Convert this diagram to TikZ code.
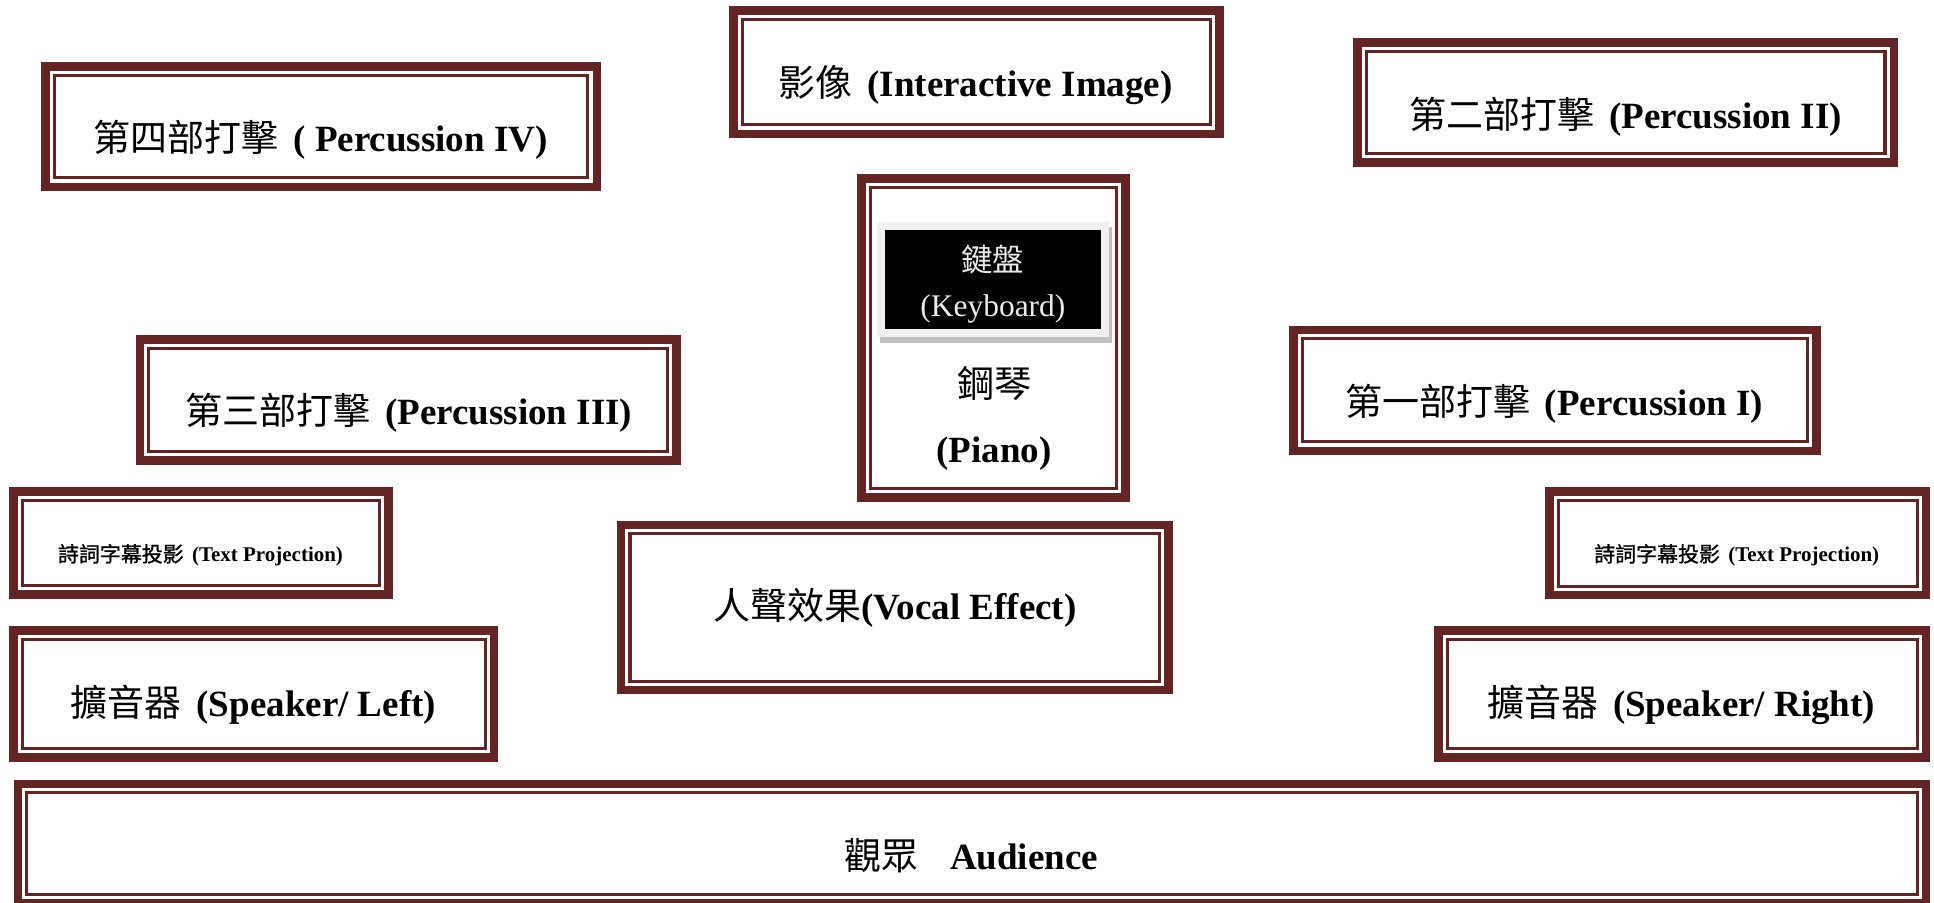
\documentclass[tikz,border=0pt]{standalone}
\usepackage{fontspec}
\setmainfont{Liberation Serif}
\newfontfamily\cjk{Noto Sans CJK TC}
\newfontfamily\cjkb[FakeBold=1.2]{Noto Sans CJK TC}
\definecolor{stagebrown}{RGB}{100,36,36}
\definecolor{kbframe}{RGB}{241,241,241}
\definecolor{kbshadow}{RGB}{192,192,192}
\tikzset{
  outerframe/.style={rectangle, draw=stagebrown, line width=7pt, fill=white, inner sep=0pt, outer sep=0pt},
  innerframe/.style={rectangle, draw=stagebrown, line width=2.5pt, inner sep=0pt, outer sep=0pt},
  lbl/.style={anchor=base, inner sep=0pt, font=\fontsize{30}{36}\selectfont\bfseries},
  smalllbl/.style={anchor=base, inner sep=0pt, font=\fontsize{17}{20}\selectfont\bfseries},
  kblbl/.style={anchor=base, inner sep=0pt, text=white!92!black, font=\fontsize{25.5}{30}\selectfont},
  plainrect/.style={rectangle, inner sep=0pt, outer sep=0pt, draw=none},
}
% name, x1, y1, x2, y2
\newcommand\stagebox[5]{%
  \pgfmathsetmacro\bw{#4-#2}\pgfmathsetmacro\bh{#5-#3}%
  \pgfmathsetmacro\bcx{(#2+#4)/2}\pgfmathsetmacro\bcy{(#3+#5)/2}%
  \pgfmathsetmacro\ow{\bw-7}\pgfmathsetmacro\oh{\bh-7}%
  \pgfmathsetmacro\iw{\bw-21.5}\pgfmathsetmacro\ih{\bh-21.5}%
  \node[outerframe, minimum width=\ow pt, minimum height=\oh pt] (#1) at (\bcx,\bcy) {};
  \node[innerframe, minimum width=\iw pt, minimum height=\ih pt] (#1-in) at (#1.center) {};
}
\begin{document}
\begin{tikzpicture}[x=1pt,y=-1pt]
\useasboundingbox[fill=white] (0,0) rectangle (1568,732);

% boxes
\stagebox{p4}{33.3}{50.5}{487.4}{155}
\stagebox{img}{591}{5}{992}{112}
\stagebox{p2}{1097}{31}{1539}{135}
\stagebox{piano}{695}{141}{916}{407}
\stagebox{p3}{110}{271.6}{552}{377}
\stagebox{p1}{1045}{264}{1476}{369}
\stagebox{tpl}{7.4}{395}{318.6}{485.6}
\stagebox{tpr}{1253}{395}{1565}{486}
\stagebox{vocal}{500}{422}{951}{563}
\stagebox{spl}{7.5}{507.5}{404}{617.5}
\stagebox{spr}{1162.6}{507.5}{1565}{617.5}
\stagebox{aud}{11}{632}{1565}{736}

% keyboard panel inside the piano box
\node[plainrect, fill=kbshadow, minimum width=188pt, minimum height=94pt] (kbsh) at (807.5,231) {};
\node[plainrect, fill=kbframe, minimum width=188pt, minimum height=93pt] (kbf) at (805,226.5) {};
\node[plainrect, fill=black, minimum width=175pt, minimum height=80pt] (kb) at (805,226.6) {};
\node[kblbl] (kb-t1) at (805,220) {{\cjk 鍵盤}};
\node[kblbl] (kb-t2) at (805,257) {(Keyboard)};

% labels
\node[lbl] (p4-t) at (260,123) {{\cjk\mdseries 第四部打擊}\hspace{0.4em}( Percussion IV)};
\node[lbl] (img-t) at (791,78.5) {{\cjk\mdseries 影像}\hspace{0.4em}(Interactive Image)};
\node[lbl] (p2-t) at (1318,104) {{\cjk\mdseries 第二部打擊}\hspace{0.4em}(Percussion II)};
\node[lbl] (p3-t) at (331.5,344.5) {{\cjk\mdseries 第三部打擊}\hspace{0.4em}(Percussion III)};
\node[lbl] (p1-t) at (1260,336.5) {{\cjk\mdseries 第一部打擊}\hspace{0.4em}(Percussion I)};
\node[lbl] (piano-t1) at (806,322) {{\cjk\mdseries 鋼琴}};
\node[lbl] (piano-t2) at (806,375) {(Piano)};
\node[smalllbl] (tpl-t) at (162.5,455.5) {{\cjkb\mdseries 詩詞字幕投影}\hspace{0.4em}(Text Projection)};
\node[smalllbl] (tpr-t) at (1408,455.5) {{\cjkb\mdseries 詩詞字幕投影}\hspace{0.4em}(Text Projection)};
\node[lbl] (vocal-t) at (725.5,502) {{\cjk\mdseries 人聲效果}(Vocal Effect)};
\node[lbl] (spl-t) at (205.5,581) {{\cjk\mdseries 擴音器}\hspace{0.4em}(Speaker/ Left)};
\node[lbl] (spr-t) at (1363,581) {{\cjk\mdseries 擴音器}\hspace{0.4em}(Speaker/ Right)};
\node[lbl] (aud-t) at (787.5,705) {{\cjk\mdseries 觀眾}\hspace{0.85em}Audience};
\end{tikzpicture}
\end{document}
